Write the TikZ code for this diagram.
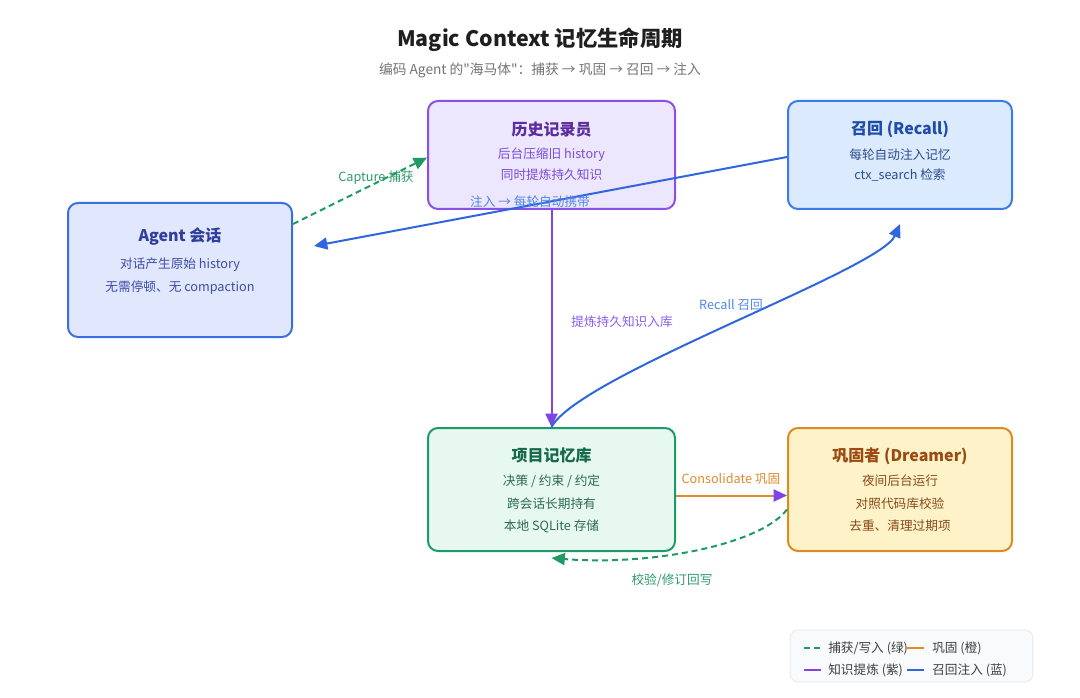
\documentclass[tikz,border=0pt]{standalone}
\usepackage{fontspec}
\setmainfont{Noto Sans CJK SC}[Ligatures=TeXOff]
\usetikzlibrary{arrows.meta}

\definecolor{agentfill}{HTML}{E1E8FD}
\definecolor{agentdraw}{HTML}{3B6FE0}
\definecolor{agenttitle}{HTML}{2F3E9E}
\definecolor{agenttext}{HTML}{3D4BA8}
\definecolor{histfill}{HTML}{EDE7FD}
\definecolor{histdraw}{HTML}{8A4FE6}
\definecolor{histtitle}{HTML}{5B2C9F}
\definecolor{histtext}{HTML}{7A4BD6}
\definecolor{recfill}{HTML}{DCEAFD}
\definecolor{recdraw}{HTML}{3B7BE8}
\definecolor{rectitle}{HTML}{1E4CA8}
\definecolor{rectext}{HTML}{2B4D8E}
\definecolor{storefill}{HTML}{E7F8F0}
\definecolor{storedraw}{HTML}{1E9A6A}
\definecolor{storetitle}{HTML}{146A4A}
\definecolor{storetext}{HTML}{2C6A52}
\definecolor{dreamfill}{HTML}{FEF2C8}
\definecolor{dreamdraw}{HTML}{DD8A22}
\definecolor{dreamtitle}{HTML}{9A4A12}
\definecolor{dreamtext}{HTML}{8A4A1A}
\definecolor{greenline}{HTML}{1F9A62}
\definecolor{blueline}{HTML}{2F66E0}
\definecolor{purpleline}{HTML}{7E44E8}
\definecolor{orangeline}{HTML}{E08A2A}
\definecolor{greenlbl}{HTML}{2E9A6A}
\definecolor{bluelbl}{HTML}{4F86E6}
\definecolor{purplelbl}{HTML}{8B5CF0}
\definecolor{orangelbl}{HTML}{E08A2A}
\definecolor{legfill}{HTML}{F8FAFC}
\definecolor{legdraw}{HTML}{E5E8EC}

\begin{document}
\begin{tikzpicture}[x=0.75pt, y=-0.75pt, align=center,
    box/.style={draw, rounded corners=7.5pt, line width=1.5pt},
    ttl/.style={font=\fontsize{12}{14}\selectfont\bfseries},
    txt/.style={font=\fontsize{9.5}{11}\selectfont},
    lbl/.style={font=\fontsize{9.5}{11}\selectfont, inner sep=1pt},
    endtip/.style={-{Triangle[length=10pt, width=9pt]}},
    dashline/.style={dash pattern=on 4.5pt off 3pt}]
      \useasboundingbox (0,0) rectangle (1080,698);
      %
      \node[font=\fontsize{16}{19}\selectfont\bfseries, text=black!88] (title) at (540,40) {Magic Context 记忆生命周期};
      \node[font=\fontsize{10.3}{12}\selectfont, text=black!55] (subtitle) at (540,70) {编码 Agent 的"海马体"：捕获 → 巩固 → 召回 → 注入};
      %
      \node[box, draw=agentdraw, fill=agentfill, minimum width=168pt, minimum height=100.5pt] (agent) at (180,270) {};
      \node[ttl, text=agenttitle] (agent-t) at (180,237) {Agent 会话};
      \node[txt, text=agenttext] (agent-1) at (180,265) {对话产生原始 history};
      \node[txt, text=agenttext] (agent-2) at (180,288) {无需停顿、无 compaction};
      %
      \node[box, draw=histdraw, fill=histfill, minimum width=185.25pt, minimum height=81pt] (hist) at (551.5,155) {};
      \node[ttl, text=histtitle] (hist-t) at (551.5,130) {历史记录员};
      \node[txt, text=histtext] (hist-1) at (551.5,155) {后台压缩旧 history};
      \node[txt, text=histtext] (hist-2) at (551.5,175) {同时提炼持久知识};
      %
      \node[box, draw=recdraw, fill=recfill, minimum width=168pt, minimum height=81pt] (recall) at (900,155) {};
      \node[ttl, text=rectitle] (recall-t) at (900,129) {召回 (Recall)};
      \node[txt, text=rectext] (recall-1) at (900,155) {每轮自动注入记忆};
      \node[txt, text=rectext] (recall-2) at (900,175) {ctx\_search 检索};
      %
      \node[box, draw=storedraw, fill=storefill, minimum width=185.25pt, minimum height=92.25pt] (store) at (551.5,489.5) {};
      \node[ttl, text=storetitle] (store-t) at (551.5,455) {项目记忆库};
      \node[txt, text=storetext] (store-1) at (551.5,481) {决策 / 约束 / 约定};
      \node[txt, text=storetext] (store-2) at (551.5,504) {跨会话长期持有};
      \node[txt, text=storetext] (store-3) at (551.5,526) {本地 SQLite 存储};
      %
      \node[box, draw=dreamdraw, fill=dreamfill, minimum width=168pt, minimum height=92.25pt] (dream) at (900,489.5) {};
      \node[ttl, text=dreamtitle] (dream-t) at (900,456) {巩固者 (Dreamer)};
      \node[txt, text=dreamtext] (dream-1) at (900,481) {夜间后台运行};
      \node[txt, text=dreamtext] (dream-2) at (900,504) {对照代码库校验};
      \node[txt, text=dreamtext] (dream-3) at (900,526) {去重、清理过期项};
      %
      \coordinate (injtip) at (314,246);
      \coordinate (rectip) at (900,224);
      %
      \draw[endtip, dashline, greenline, line width=1.5pt] ([yshift=34.5pt]agent.east) -- ([yshift=-2pt]hist.west);
      \node[lbl, text=greenlbl] (capture) at (376,178) {Capture 捕获};
      %
      \draw[endtip, blueline, line width=1.5pt] ([yshift=-1.5pt]recall.west) -- (injtip);
      \node[lbl, text=bluelbl] (inject) at (530,202) {注入 → 每轮自动携带};
      %
      \draw[endtip, purpleline, line width=1.5pt] (hist.south) -- (store.north);
      \node[lbl, text=purplelbl] (extract) at (622,322) {提炼持久知识入库};
      %
      \draw[endtip, blueline, line width=1.5pt] (store.north) .. controls (580,375) and (880,270) .. (rectip);
      \node[lbl, text=bluelbl] (recall-l) at (731,305) {Recall 召回};
      %
      \draw[-{Triangle[length=10pt, width=9pt, color=purpleline]}, orangeline, line width=1.5pt] ([yshift=-4.5pt]store.east) -- ([yshift=-4.5pt]dream.west);
      \node[lbl, text=orangelbl] (consol) at (731,479) {Consolidate 巩固};
      %
      \draw[endtip, dashline, greenline, line width=1.5pt] ([yshift=-15pt]dream.west) .. controls (760,545) and (650,566) .. ([yshift=-4.5pt]store.south);
      \node[lbl, text=greenlbl] (verify) at (672,580) {校验/修订回写};
      %
      \node[draw=legdraw, fill=legfill, rounded corners=6pt, line width=0.6pt, minimum width=182pt, minimum height=39pt] (legend) at (911.5,656) {};
      \draw[dashline, greenline, line width=1.5pt] (804,648) -- (821,648);
      \node[txt, text=black!75, anchor=west, inner sep=0pt] (leg-1) at (828,648) {捕获/写入 (绿)};
      \draw[orangeline, line width=1.5pt] (907,648) -- (924,648);
      \node[txt, text=black!75, anchor=west, inner sep=0pt] (leg-2) at (932,648) {巩固 (橙)};
      \draw[purpleline, line width=1.5pt] (804,670) -- (821,670);
      \node[txt, text=black!75, anchor=west, inner sep=0pt] (leg-3) at (828,670) {知识提炼 (紫)};
      \draw[blueline, line width=1.5pt] (907,670) -- (924,670);
      \node[txt, text=black!75, anchor=west, inner sep=0pt] (leg-4) at (932,670) {召回注入 (蓝)};
    \end{tikzpicture}
\end{document}
